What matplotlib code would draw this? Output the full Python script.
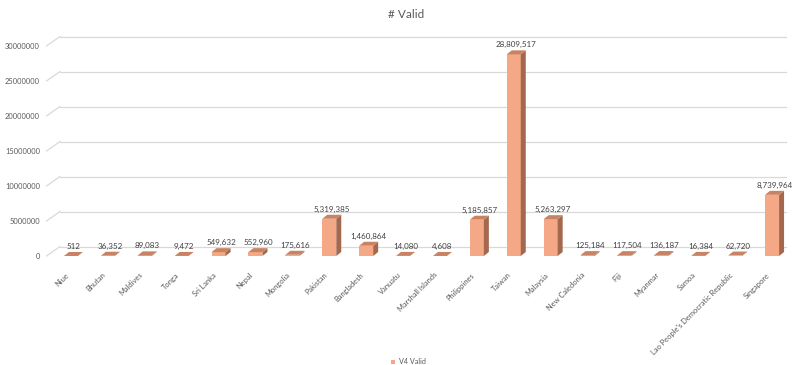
import matplotlib
matplotlib.use('Agg')
import matplotlib.pyplot as plt
from matplotlib.patches import Polygon
from matplotlib.transforms import ScaledTranslation

countries = ['Niue', 'Bhutan', 'Maldives', 'Tonga', 'Sri Lanka', 'Nepal', 'Mongolia',
             'Pakistan', 'Bangladesh', 'Vanuatu', 'Marshall Islands', 'Philippines',
             'Taiwan', 'Malaysia', 'New Caledonia', 'Fiji', 'Myanmar', 'Samoa',
             "Lao People's Democratic Republic", 'Singapore']
v4_valid = [512, 36352, 89083, 9472, 549632, 552960, 175616,
            5319385, 1460864, 14080, 4608, 5185857,
            28809517, 5263297, 125184, 117504, 136187, 16384,
            62720, 8739964]
y_ticks = [0, 5000000, 10000000, 15000000, 20000000, 25000000, 30000000]

plt.rcParams['font.family'] = ['Lato', 'DejaVu Sans']

W, H = 794, 365
fig = plt.figure(figsize=(W / 100, H / 100), dpi=100)
ax_left, ax_right = 52.5, 790.5      # pixel x of xlim
ax_bottom, ax_top = 256, 46          # pixel y (from top) of 0 and 30M
ax = fig.add_axes([ax_left / W, (H - ax_bottom) / H,
                   (ax_right - ax_left) / W, (ax_bottom - ax_top) / H])
ax.set_xlim(-0.5, len(countries) - 0.5)
ax.set_ylim(0, 30000000)
for s in ax.spines.values():
    s.set_visible(False)

# data units per pixel
xpp = len(countries) / (ax_right - ax_left)
ypp = 30000000 / (ax_bottom - ax_top)

front = '#F4A886'
side = '#A3684E'
top = '#C98362'
grid_c = '#D9D9D9'
txt_c = '#595959'

# back-wall gridlines with the little diagonal connector
gx0 = -0.5 + (60 - ax_left) * xpp
gx1 = len(countries) - 0.5 - 5 * xpp
for t in y_ticks:
    yb = t + 9.5 * ypp
    ax.plot([gx0, gx1], [yb, yb], color=grid_c, lw=0.9, clip_on=False, zorder=1)
    ax.plot([-0.5 - 6 * xpp, gx0], [t, yb], color=grid_c, lw=0.9, clip_on=False, zorder=1)

ax.set_yticks(y_ticks)
ax.set_yticklabels([str(t) for t in y_ticks])
ax.tick_params(axis='y', length=0, pad=9, labelsize=5.4, labelcolor=txt_c)

# 3D-looking columns
bw = 0.38
dx, dy = 5 * xpp, 4 * ypp
for i, v in enumerate(v4_valid):
    x0, x1 = i - bw / 2, i + bw / 2
    ax.add_patch(Polygon([(x0, 0), (x1, 0), (x1, v), (x0, v)], closed=True,
                         facecolor=front, edgecolor='none', zorder=3))
    ax.add_patch(Polygon([(x1, 0), (x1 + dx, dy), (x1 + dx, v + dy), (x1, v)], closed=True,
                         facecolor=side, edgecolor='none', zorder=3))
    ax.add_patch(Polygon([(x0, v), (x1, v), (x1 + dx, v + dy), (x0 + dx, v + dy)], closed=True,
                         facecolor=top, edgecolor='none', zorder=4))
    ax.text(i + 2.5 * xpp, v + 9.5 * ypp, f'{v:,}', ha='center', va='center',
            fontsize=5.8, color='#404040', zorder=5)

ax.set_xticks(range(len(countries)))
ax.set_xticklabels(countries, rotation=45, ha='right', rotation_mode='anchor')
ax.tick_params(axis='x', length=0, pad=11, labelsize=5.4, labelcolor=txt_c)
shift = ScaledTranslation(-6 / 100, 0, fig.dpi_scale_trans)
for lbl in ax.get_xticklabels():
    lbl.set_transform(lbl.get_transform() + shift)

fig.text(406 / W, 1 - 15 / H, '# Valid', ha='center', va='center', fontsize=8.5, color=txt_c)

# legend
fig.patches.append(plt.Rectangle((391 / W, 1 - 364 / H), 4 / W, 4 / H, transform=fig.transFigure,
                                 facecolor=front, edgecolor='none'))
fig.text(399 / W, 1 - 362 / H, 'V4 Valid', ha='left', va='center', fontsize=5.2, color=txt_c)

fig.savefig('out.png', dpi=100, facecolor='white')
